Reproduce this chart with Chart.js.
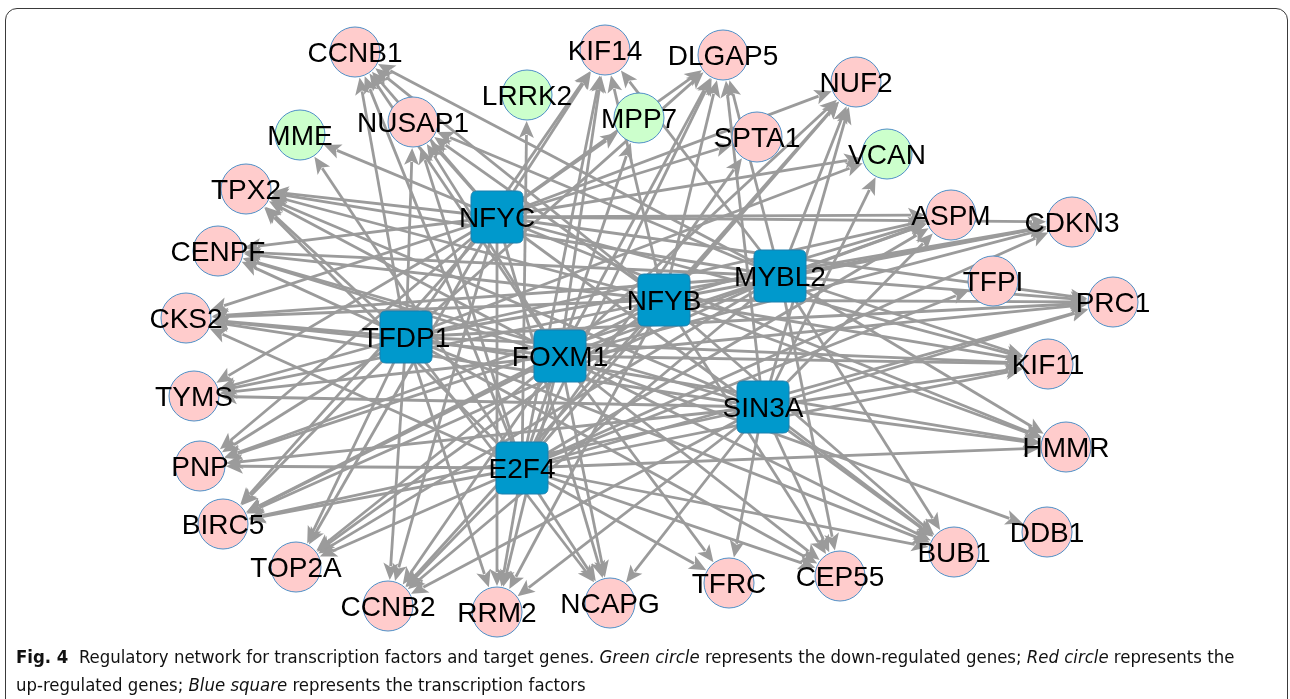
<!DOCTYPE html>
<html>
<head>
<meta charset="utf-8">
<script src="https://cdn.jsdelivr.net/npm/chart.js@4.4.0/dist/chart.umd.min.js"></script>
<style>
html,body{margin:0;padding:0;background:#fff;width:1290px;height:699px;overflow:hidden}
#frame{position:absolute;left:5px;top:8px;width:1283px;height:740px;border:1.5px solid #3a3a3a;border-radius:12px;box-sizing:border-box}
#chartBox{position:absolute;left:0;top:0;width:1290px;height:699px}
#cap{position:absolute;left:16px;top:643px;width:1270px;white-space:nowrap;font-family:"DejaVu Sans Condensed","DejaVu Sans",sans-serif;font-stretch:condensed;font-size:18.4px;line-height:28px;color:#111}
#cap b{font-weight:bold}
</style>
</head>
<body>
<div id="frame"></div>
<div id="chartBox"><canvas id="c" width="1290" height="699"></canvas></div>
<div id="cap"><b>Fig. 4</b>&nbsp; Regulatory network for transcription factors and target genes. <i>Green circle</i> represents the down-regulated genes; <i>Red circle</i> represents the<br>up-regulated genes; <i>Blue square</i> represents the transcription factors</div>
<script>
// ---- data: target genes (layout coordinates) ----
const targetNames = ['CCNB1','NUSAP1','MME','TPX2','CENPF','CKS2','TYMS','PNP','BIRC5','TOP2A','CCNB2','RRM2','NCAPG','TFRC','CEP55','BUB1','DDB1','HMMR','KIF11','PRC1','TFPI','CDKN3','ASPM','VCAN','NUF2','SPTA1','DLGAP5','KIF14','MPP7','LRRK2'];
const targetX = [355,413,300,246,218,186,194,200,223,296,388,497,610,729,840,954,1047,1066,1048,1113,993,1072,951,887,856,757,723,605,639,527];
const targetY = [52,122,135,189,251,318,396,466,524,567,606,612,603,583,576,552,532,447,364,302,281,222,215,154,82,137,55,50,118,95];
const targetRegulation = ['up','up','down','up','up','up','up','up','up','up','up','up','up','up','up','up','up','up','up','up','up','up','up','down','up','up','up','up','down','down'];

// ---- data: transcription factors ----
const tfNames = ['NFYC','NFYB','MYBL2','TFDP1','FOXM1','SIN3A','E2F4'];
const tfX = [497,664,780,406,560,763,522];
const tfY = [217,300,276,337,356,407,468];

// ---- data: regulatory edges (TF -> targets) ----
const targetsNFYC = ['CCNB1','NUSAP1','MME','TPX2','CENPF','CKS2','TYMS','PNP','BIRC5','TOP2A','CCNB2','RRM2','NCAPG','BUB1','HMMR','KIF11','PRC1','CDKN3','ASPM','VCAN','NUF2','SPTA1','DLGAP5','KIF14','MPP7'];
const targetsNFYB = ['CCNB1','NUSAP1','TPX2','CENPF','CKS2','TYMS','PNP','BIRC5','TOP2A','CCNB2','RRM2','CEP55','BUB1','HMMR','KIF11','PRC1','CDKN3','ASPM','NUF2','DLGAP5','KIF14'];
const targetsMYBL2 = ['CCNB1','NUSAP1','TPX2','CENPF','CKS2','PNP','BIRC5','TOP2A','CCNB2','CEP55','BUB1','HMMR','KIF11','PRC1','CDKN3','ASPM','NUF2','DLGAP5','KIF14'];
const targetsTFDP1 = ['CCNB1','NUSAP1','TPX2','CENPF','CKS2','TYMS','PNP','BIRC5','TOP2A','CCNB2','RRM2','NCAPG','CEP55','BUB1','HMMR','KIF11','PRC1','CDKN3','ASPM','VCAN','DLGAP5','KIF14'];
const targetsFOXM1 = ['CCNB1','NUSAP1','TPX2','CENPF','CKS2','TYMS','BIRC5','TOP2A','CCNB2','RRM2','NCAPG','TFRC','CEP55','BUB1','DDB1','KIF11','PRC1','CDKN3','ASPM','NUF2','DLGAP5','KIF14'];
const targetsSIN3A = ['TPX2','CENPF','CKS2','TYMS','PNP','BIRC5','CCNB2','RRM2','NCAPG','TFRC','CEP55','BUB1','HMMR','KIF11','PRC1','ASPM','VCAN','NUF2','DLGAP5'];
const targetsE2F4 = ['CCNB1','NUSAP1','MME','TPX2','CKS2','PNP','BIRC5','TOP2A','CCNB2','RRM2','NCAPG','TFRC','CEP55','BUB1','HMMR','KIF11','PRC1','TFPI','CDKN3','ASPM','NUF2','SPTA1','DLGAP5','KIF14','MPP7','LRRK2'];
const tfTargetLists = [targetsNFYC,targetsNFYB,targetsMYBL2,targetsTFDP1,targetsFOXM1,targetsSIN3A,targetsE2F4];

// ---- styles ----
const PINK = '#ffcccc', GREEN = '#ccffcc', BLUE = '#0099cc';
const NODE_R = 25, TF_SIDE = 52;
const EDGE_COLOR = '#9b9b9b';
const LABEL_FONT = '28px "Liberation Sans", Arimo, Arial, sans-serif';

function makeSquare(side){
  const c = document.createElement('canvas');
  c.width = side + 2; c.height = side + 2;
  const g = c.getContext('2d');
  const r = 6, x = 1, y = 1, w = side, h = side;
  g.beginPath();
  g.moveTo(x + r, y); g.lineTo(x + w - r, y); g.quadraticCurveTo(x + w, y, x + w, y + r);
  g.lineTo(x + w, y + h - r); g.quadraticCurveTo(x + w, y + h, x + w - r, y + h);
  g.lineTo(x + r, y + h); g.quadraticCurveTo(x, y + h, x, y + h - r);
  g.lineTo(x, y + r); g.quadraticCurveTo(x, y, x + r, y); g.closePath();
  g.fillStyle = BLUE; g.fill();
  g.strokeStyle = '#1b7fae'; g.lineWidth = 1; g.stroke();
  return c;
}

const targetPoints = targetNames.map((n,i)=>({x:targetX[i], y:targetY[i], label:n}));
const tfPoints = tfNames.map((n,i)=>({x:tfX[i], y:tfY[i], label:n}));

const edgePlugin = {
  id: 'edges',
  beforeDatasetsDraw(chart){
    const ctx = chart.ctx, xs = chart.scales.x, ys = chart.scales.y;
    ctx.save();
    ctx.strokeStyle = EDGE_COLOR; ctx.fillStyle = EDGE_COLOR;
    ctx.lineWidth = 2.8; ctx.lineCap = 'butt';
    tfTargetLists.forEach((list, ti)=>{
      const sx = xs.getPixelForValue(tfX[ti]), sy = ys.getPixelForValue(tfY[ti]);
      list.forEach(name=>{
        const k = targetNames.indexOf(name);
        if (k < 0) return;
        const tx = xs.getPixelForValue(targetX[k]), ty = ys.getPixelForValue(targetY[k]);
        const dx = tx - sx, dy = ty - sy, L = Math.hypot(dx, dy);
        const ux = dx / L, uy = dy / L;
        const tipX = tx - ux * (NODE_R + 1), tipY = ty - uy * (NODE_R + 1);
        const aLen = 17, aW = 7.5;
        const bx = tipX - ux * aLen, by = tipY - uy * aLen;
        ctx.beginPath(); ctx.moveTo(sx, sy); ctx.lineTo(bx + ux*3, by + uy*3); ctx.stroke();
        ctx.beginPath();
        ctx.moveTo(tipX, tipY);
        ctx.lineTo(bx - uy * aW, by + ux * aW);
        ctx.lineTo(bx + ux * 4, by + uy * 4);
        ctx.lineTo(bx + uy * aW, by - ux * aW);
        ctx.closePath(); ctx.fill();
      });
    });
    ctx.restore();
  }
};

const labelPlugin = {
  id: 'labels',
  afterDatasetsDraw(chart){
    const ctx = chart.ctx;
    ctx.save();
    ctx.font = LABEL_FONT;
    ctx.fillStyle = '#000';
    ctx.textAlign = 'center'; ctx.textBaseline = 'alphabetic';
    chart.data.datasets.forEach((ds, di)=>{
      const meta = chart.getDatasetMeta(di);
      meta.data.forEach((pt, i)=>{
        ctx.fillText(ds.data[i].label, pt.x, pt.y + 10);
      });
    });
    ctx.restore();
  }
};

function draw(){
  const squareImg = makeSquare(TF_SIDE);
  new Chart(document.getElementById('c'), {
    type: 'scatter',
    data: {
      datasets: [
        {
          label: 'Target genes',
          data: targetPoints,
          pointStyle: 'circle',
          pointRadius: NODE_R,
          pointHoverRadius: NODE_R,
          backgroundColor: targetRegulation.map(r => r === 'down' ? GREEN : PINK),
          borderColor: '#4f8fc6',
          borderWidth: 1
        },
        {
          label: 'Transcription factors',
          data: tfPoints,
          pointStyle: squareImg,
          pointRadius: TF_SIDE/2,
          pointHoverRadius: TF_SIDE/2
        }
      ]
    },
    options: {
      responsive: false,
      animation: false,
      devicePixelRatio: 1,
      layout: { padding: 0, autoPadding: false },
      events: [],
      clip: false,
      scales: {
        x: { type: 'linear', min: 0, max: 1290, display: false },
        y: { type: 'linear', min: 0, max: 699, reverse: true, display: false }
      },
      plugins: { legend: { display: false }, tooltip: { enabled: false } }
    },
    plugins: [edgePlugin, labelPlugin]
  });
}
if (document.fonts && document.fonts.load) {
  document.fonts.load(LABEL_FONT).then(draw, draw);
} else { draw(); }
</script>
</body>
</html>
